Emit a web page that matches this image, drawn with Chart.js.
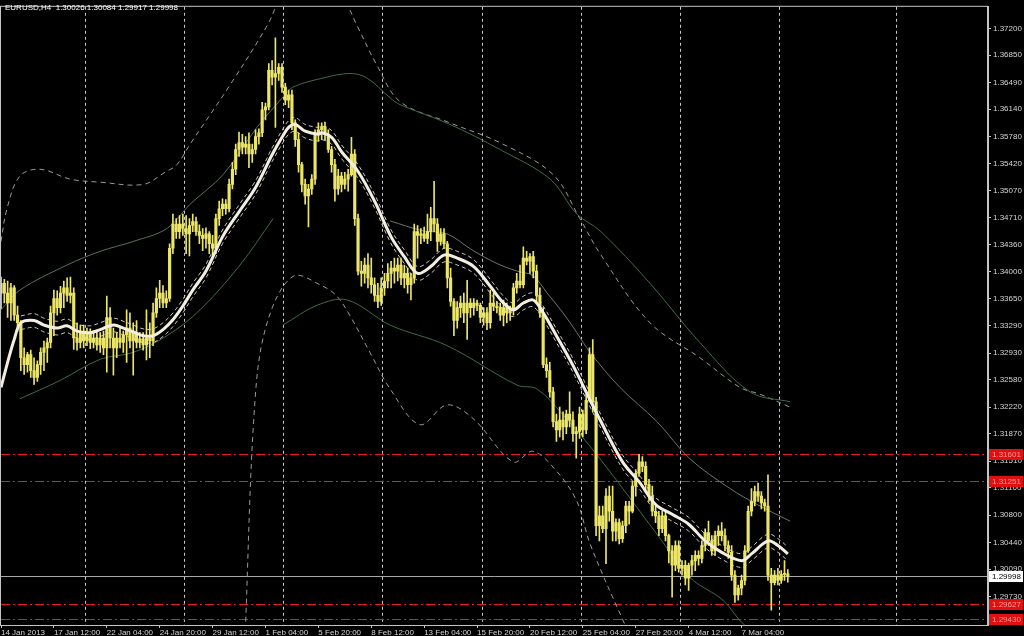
<!DOCTYPE html>
<html>
<head>
<meta charset="utf-8">
<script src="https://cdn.jsdelivr.net/npm/chart.js@4.4.0/dist/chart.umd.min.js"></script>
<style>
html, body { margin: 0; padding: 0; background: #000; }
#wrap { position: relative; width: 1024px; height: 636px; }
#title { position: absolute; left: 5px; top: 3px; color: #fff; font: 8px "Liberation Sans", Arial, sans-serif; white-space: pre; }
</style>
</head>
<body>
<div id="wrap">
  <canvas id="chart" width="1024" height="636"></canvas>
  <div id="title">EURUSD,H4  1.30026 1.30084 1.29917 1.29998</div>
</div>
<script>
// EURUSD H4, bar 0 = 14 Jan 2013 20:00
const opens = [
  1.3372,1.3385,1.3372,1.3359,1.3379,1.3343,1.3333,1.3287,1.3278,1.3291,
  1.3270,1.3261,1.3278,1.3294,1.3300,1.3307,1.3346,1.3365,1.3353,1.3372,
  1.3379,1.3369,1.3372,1.3313,1.3307,1.3322,1.3309,1.3320,1.3307,1.3313,
  1.3304,1.3313,1.3300,1.3340,1.3313,1.3300,1.3313,1.3307,1.3317,1.3326,
  1.3309,1.3320,1.3307,1.3312,1.3304,1.3313,1.3309,1.3346,1.3365,1.3372,
  1.3359,1.3365,1.3431,1.3463,1.3453,1.3463,1.3457,1.3450,1.3461,1.3466,
  1.3453,1.3448,1.3444,1.3450,1.3437,1.3431,1.3470,1.3483,1.3489,1.3483,
  1.3515,1.3535,1.3561,1.3570,1.3564,1.3568,1.3555,1.3561,1.3578,1.3583,
  1.3613,1.3617,1.3665,1.3656,1.3661,1.3669,1.3643,1.3626,1.3633,1.3596,
  1.3574,1.3541,1.3515,1.3500,1.3509,1.3522,1.3581,1.3587,1.3591,1.3581,
  1.3561,1.3541,1.3509,1.3526,1.3515,1.3522,1.3528,1.3555,1.3470,1.3401,
  1.3398,1.3409,1.3392,1.3383,1.3369,1.3361,1.3379,1.3388,1.3398,1.3405,
  1.3401,1.3409,1.3392,1.3398,1.3383,1.3392,1.3453,1.3448,1.3450,1.3444,
  1.3453,1.3470,1.3463,1.3440,1.3450,1.3437,1.3392,1.3361,1.3336,1.3353,
  1.3359,1.3346,1.3359,1.3353,1.3359,1.3356,1.3340,1.3346,1.3333,1.3359,
  1.3355,1.3353,1.3343,1.3353,1.3346,1.3350,1.3379,1.3388,1.3383,1.3418,
  1.3414,1.3420,1.3401,1.3369,1.3346,1.3278,1.3270,1.3242,1.3203,1.3192,
  1.3205,1.3196,1.3213,1.3205,1.3187,1.3190,1.3213,1.3192,1.3231,1.3291,
  1.3229,1.3066,1.3079,1.3062,1.3105,1.3085,1.3059,1.3070,1.3049,1.3066,
  1.3092,1.3085,1.3118,1.3135,1.3150,1.3144,1.3120,1.3105,1.3085,1.3079,
  1.3062,1.3079,1.3053,1.3033,1.3014,1.3040,1.3010,1.3014,1.2997,1.3014,
  1.3020,1.3027,1.3023,1.3040,1.3057,1.3046,1.3033,1.3053,1.3059,1.3053,
  1.3040,1.3031,1.3001,1.2975,1.2984,1.2994,1.3033,1.3085,1.3098,1.3111,
  1.3105,1.3096,1.3092,1.3001,1.2991,1.3001,1.2994,1.3002,1.30026
];
const highs = [
  1.3393,1.3390,1.3388,1.3385,1.3382,1.3355,1.3336,1.3300,1.3294,1.3297,
  1.3287,1.3283,1.3300,1.3309,1.3313,1.3355,1.3376,1.3375,1.3381,1.3388,
  1.3392,1.3393,1.3379,1.3333,1.3330,1.3330,1.3326,1.3325,1.3322,1.3322,
  1.3320,1.3322,1.3368,1.3353,1.3326,1.3320,1.3326,1.3322,1.3350,1.3346,
  1.3333,1.3336,1.3320,1.3320,1.3350,1.3333,1.3359,1.3379,1.3389,1.3382,
  1.3375,1.3437,1.3476,1.3470,1.3474,1.3476,1.3474,1.3470,1.3476,1.3472,
  1.3462,1.3457,1.3458,1.3453,1.3448,1.3476,1.3493,1.3496,1.3495,1.3522,
  1.3544,1.3568,1.3584,1.3581,1.3578,1.3583,1.3568,1.3587,1.3588,1.3623,
  1.3622,1.3674,1.3678,1.3708,1.3674,1.3674,1.3648,1.3639,1.3639,1.3600,
  1.3583,1.3544,1.3522,1.3515,1.3528,1.3587,1.3596,1.3596,1.3597,1.3587,
  1.3565,1.3548,1.3535,1.3531,1.3531,1.3535,1.3577,1.3561,1.3476,1.3414,
  1.3418,1.3424,1.3418,1.3392,1.3385,1.3392,1.3398,1.3411,1.3414,1.3418,
  1.3418,1.3418,1.3409,1.3405,1.3398,1.3463,1.3461,1.3457,1.3459,1.3476,
  1.3485,1.3519,1.3470,1.3457,1.3457,1.3440,1.3405,1.3365,1.3361,1.3368,
  1.3372,1.3389,1.3365,1.3365,1.3363,1.3359,1.3353,1.3353,1.3376,1.3372,
  1.3361,1.3359,1.3363,1.3359,1.3355,1.3385,1.3398,1.3409,1.3433,1.3427,
  1.3424,1.3427,1.3409,1.3379,1.3353,1.3287,1.3281,1.3248,1.3213,1.3222,
  1.3216,1.3218,1.3242,1.3216,1.3196,1.3222,1.3218,1.3239,1.3300,1.3311,
  1.3235,1.3092,1.3092,1.3115,1.3118,1.3118,1.3075,1.3075,1.3072,1.3098,
  1.3098,1.3124,1.3140,1.3160,1.3157,1.3150,1.3127,1.3118,1.3092,1.3085,
  1.3085,1.3085,1.3055,1.3040,1.3046,1.3046,1.3020,1.3020,1.3017,1.3027,
  1.3033,1.3033,1.3046,1.3062,1.3072,1.3053,1.3059,1.3066,1.3070,1.3062,
  1.3046,1.3040,1.3007,1.2988,1.3001,1.3040,1.3092,1.3115,1.3118,1.3122,
  1.3111,1.3101,1.3133,1.3010,1.3007,1.3010,1.3007,1.3020,1.30084
];
const lows = [
  1.3352,1.3359,1.3340,1.3336,1.3336,1.3322,1.3270,1.3265,1.3268,1.3261,
  1.3252,1.3256,1.3265,1.3270,1.3281,1.3300,1.3316,1.3343,1.3346,1.3353,
  1.3361,1.3359,1.3298,1.3297,1.3300,1.3300,1.3303,1.3299,1.3300,1.3297,
  1.3294,1.3291,1.3268,1.3300,1.3264,1.3287,1.3300,1.3294,1.3281,1.3300,
  1.3264,1.3300,1.3300,1.3297,1.3284,1.3287,1.3303,1.3340,1.3353,1.3353,
  1.3353,1.3361,1.3424,1.3444,1.3444,1.3448,1.3424,1.3421,1.3453,1.3448,
  1.3437,1.3428,1.3431,1.3424,1.3421,1.3424,1.3461,1.3474,1.3476,1.3479,
  1.3509,1.3528,1.3552,1.3555,1.3555,1.3537,1.3544,1.3555,1.3568,1.3578,
  1.3600,1.3613,1.3646,1.3590,1.3652,1.3636,1.3620,1.3616,1.3587,1.3565,
  1.3531,1.3505,1.3489,1.3459,1.3502,1.3515,1.3572,1.3574,1.3574,1.3557,
  1.3531,1.3493,1.3502,1.3505,1.3509,1.3506,1.3526,1.3461,1.3396,1.3381,
  1.3385,1.3379,1.3372,1.3361,1.3353,1.3356,1.3369,1.3379,1.3379,1.3385,
  1.3388,1.3383,1.3379,1.3372,1.3363,1.3385,1.3418,1.3437,1.3440,1.3437,
  1.3441,1.3453,1.3427,1.3435,1.3431,1.3379,1.3355,1.3316,1.3326,1.3340,
  1.3333,1.3311,1.3340,1.3343,1.3349,1.3333,1.3330,1.3324,1.3326,1.3349,
  1.3346,1.3336,1.3329,1.3333,1.3336,1.3343,1.3372,1.3379,1.3379,1.3409,
  1.3398,1.3392,1.3359,1.3340,1.3274,1.3261,1.3235,1.3196,1.3177,1.3183,
  1.3179,1.3187,1.3196,1.3177,1.3155,1.3181,1.3183,1.3187,1.3229,1.3216,
  1.3053,1.3046,1.3057,1.3016,1.3072,1.3046,1.3046,1.3042,1.3044,1.3057,
  1.3068,1.3083,1.3105,1.3131,1.3137,1.3111,1.3098,1.3079,1.3070,1.3053,
  1.3057,1.3046,1.3017,1.2972,1.3007,1.3005,1.3001,1.2988,1.2981,1.3001,
  1.3007,1.3014,1.3017,1.3033,1.3040,1.3027,1.3027,1.3040,1.3046,1.3033,
  1.3023,1.2994,1.2965,1.2968,1.2975,1.2988,1.3031,1.3079,1.3092,1.3098,
  1.3088,1.3085,1.2994,1.2955,1.2988,1.2988,1.2990,1.2994,1.29917
];
const closes = [
  1.3385,1.3372,1.3359,1.3379,1.3343,1.3333,1.3287,1.3278,1.3291,1.3270,
  1.3261,1.3278,1.3294,1.3300,1.3307,1.3346,1.3365,1.3353,1.3372,1.3379,
  1.3369,1.3372,1.3313,1.3307,1.3322,1.3309,1.3320,1.3307,1.3313,1.3304,
  1.3313,1.3300,1.3340,1.3313,1.3300,1.3313,1.3307,1.3317,1.3326,1.3309,
  1.3320,1.3307,1.3312,1.3304,1.3313,1.3309,1.3346,1.3365,1.3372,1.3359,
  1.3365,1.3431,1.3463,1.3453,1.3463,1.3457,1.3450,1.3461,1.3466,1.3453,
  1.3448,1.3444,1.3450,1.3437,1.3431,1.3470,1.3483,1.3489,1.3483,1.3515,
  1.3535,1.3561,1.3570,1.3564,1.3568,1.3555,1.3561,1.3578,1.3583,1.3613,
  1.3617,1.3665,1.3656,1.3661,1.3669,1.3643,1.3626,1.3633,1.3596,1.3574,
  1.3541,1.3515,1.3500,1.3509,1.3522,1.3581,1.3587,1.3591,1.3581,1.3561,
  1.3541,1.3509,1.3526,1.3515,1.3522,1.3528,1.3555,1.3470,1.3401,1.3398,
  1.3409,1.3392,1.3383,1.3369,1.3361,1.3379,1.3388,1.3398,1.3405,1.3401,
  1.3409,1.3392,1.3398,1.3383,1.3392,1.3453,1.3448,1.3450,1.3444,1.3453,
  1.3470,1.3463,1.3440,1.3450,1.3437,1.3392,1.3361,1.3336,1.3353,1.3359,
  1.3346,1.3359,1.3353,1.3359,1.3356,1.3340,1.3346,1.3333,1.3359,1.3355,
  1.3353,1.3343,1.3353,1.3346,1.3350,1.3379,1.3388,1.3383,1.3418,1.3414,
  1.3420,1.3401,1.3369,1.3346,1.3278,1.3270,1.3242,1.3203,1.3192,1.3205,
  1.3196,1.3213,1.3205,1.3187,1.3190,1.3213,1.3192,1.3231,1.3291,1.3229,
  1.3066,1.3079,1.3062,1.3105,1.3085,1.3059,1.3070,1.3049,1.3066,1.3092,
  1.3085,1.3118,1.3135,1.3150,1.3144,1.3120,1.3105,1.3085,1.3079,1.3062,
  1.3079,1.3053,1.3033,1.3014,1.3040,1.3010,1.3014,1.2997,1.3014,1.3020,
  1.3027,1.3023,1.3040,1.3057,1.3046,1.3033,1.3053,1.3059,1.3053,1.3040,
  1.3031,1.3001,1.2975,1.2984,1.2994,1.3033,1.3085,1.3098,1.3111,1.3105,
  1.3096,1.3092,1.3001,1.2991,1.3001,1.2994,1.3002,1.3003,1.29998
];

// moving average (thick white) and its dashed envelope
const maIdx = [0,2,4,6,10,13,17,20,23,27,30,34,37,40,43,46,49,52,55,58,62,67,72,77,82,85,87,89,92,96,97,100,103,108,113,118,122,126,130,134,138,143,148,152,155,158,161,164,168,173,178,181,188,193,198,203,208,213,218,224,227,232,235,238];
const maVal = [1.3248,1.3281,1.3311,1.3333,1.3336,1.3330,1.3326,1.3329,1.3322,1.3320,1.3324,1.3330,1.3326,1.3321,1.3316,1.3316,1.3324,1.3337,1.3355,1.3376,1.3401,1.3446,1.3479,1.3511,1.3554,1.3577,1.3590,1.3594,1.3585,1.3581,1.3583,1.3577,1.3558,1.3532,1.3493,1.3446,1.3420,1.3398,1.3407,1.3422,1.3418,1.3407,1.3381,1.3359,1.3350,1.3359,1.3363,1.3346,1.3316,1.3277,1.3233,1.3207,1.3150,1.3124,1.3094,1.3081,1.3068,1.3046,1.3031,1.3020,1.3029,1.3046,1.3040,1.3029];
const envIdx = [6,10,13,17,20,23,27,30,34,37,40,43,46,49,52,55,58,62,67,72,77,82,85,87,89,92,96,97,100,103,108,113,118,122,126,130,134,138,143,148,152,155,158,161,164,168,173,178,181,188,193,198,203,208,213,218,224,227,232,235,238];
const envUp = [1.3342,1.3345,1.3339,1.3335,1.3338,1.3331,1.3329,1.3333,1.3339,1.3335,1.3330,1.3325,1.3325,1.3333,1.3346,1.3364,1.3385,1.3410,1.3455,1.3488,1.3520,1.3563,1.3586,1.3599,1.3603,1.3594,1.3590,1.3592,1.3586,1.3567,1.3541,1.3502,1.3455,1.3429,1.3407,1.3416,1.3431,1.3427,1.3416,1.3390,1.3368,1.3359,1.3368,1.3372,1.3355,1.3325,1.3286,1.3242,1.3216,1.3159,1.3133,1.3103,1.3090,1.3077,1.3055,1.3040,1.3029,1.3038,1.3055,1.3049,1.3038];
const envDn = [1.3324,1.3327,1.3321,1.3317,1.3320,1.3313,1.3311,1.3315,1.3321,1.3317,1.3312,1.3307,1.3307,1.3315,1.3328,1.3346,1.3367,1.3392,1.3437,1.3470,1.3502,1.3545,1.3568,1.3581,1.3585,1.3576,1.3572,1.3574,1.3568,1.3549,1.3523,1.3484,1.3437,1.3411,1.3389,1.3398,1.3413,1.3409,1.3398,1.3372,1.3350,1.3341,1.3350,1.3354,1.3337,1.3307,1.3268,1.3224,1.3198,1.3141,1.3115,1.3085,1.3072,1.3059,1.3037,1.3022,1.3011,1.3020,1.3037,1.3031,1.3020];

// outer bands
const udIdx = [0,1.8,5.7,11.8,20.9,29.9,43,49.6,53.2,57.2,69.3,80.5,87.4,96.5,104,107.7,113.7,120.7,135.8,150.9,167,175.1,181.2,196.3,211.4,223.5,229.6,238.7];
const udVal = [1.3440,1.3483,1.3526,1.3535,1.3522,1.3518,1.3515,1.3531,1.3541,1.3568,1.3646,1.3724,1.3783,1.3802,1.3757,1.3724,1.3672,1.3624,1.3596,1.3570,1.3528,1.3470,1.3424,1.3333,1.3287,1.3248,1.3239,1.3222];
const ugIdx = [85.3,88.3,97.4,105.6,110.7,117.7,120.7,135.8,150.9,166.1,174.2,181.2,196.3,211.4,226.6,238.7];
const ugVal = [1.3630,1.3643,1.3655,1.3661,1.3655,1.3629,1.3620,1.3594,1.3561,1.3522,1.3476,1.3454,1.3385,1.3307,1.3242,1.3229];
const t1Idx = [0,5.7,20,30,40,50.2,57.2,67.2,77.4,85.3];
const t1Val = [1.3350,1.3376,1.3409,1.3427,1.3440,1.3457,1.3489,1.3528,1.3590,1.3630];
const t2Idx = [117.7,127.6,134.9,142.8,150,156.1,160.9,165.2,170,174.2,178.2,187.2,198.4,208.4,220.5,228.7,238.7];
const t2Val = [1.3467,1.3454,1.3450,1.3428,1.3411,1.3401,1.3395,1.3372,1.3346,1.3320,1.3294,1.3248,1.3203,1.3154,1.3115,1.3094,1.3072];
const lg1Idx = [5.7,17.8,30,40,50.2,60.2,72.3,82.3];
const lg1Val = [1.3233,1.3257,1.3285,1.3294,1.3316,1.3350,1.3409,1.3470];
const lgIdx = [85.3,95.6,104.7,117.7,134.9,156.1,162.1,170,181.2,198.4,208.4,218.4,225,235.6];
const lgVal = [1.3330,1.3356,1.3363,1.3330,1.3303,1.3251,1.3246,1.3212,1.3154,1.3055,1.2998,1.2968,1.2935,1.2909];
const ldIdx = [73.8,76.8,80.5,88.3,97.4,101.6,105.6,111.6,117.7,126.7,134.9,142.8,154.9,160.9,168.2,174.2,178.2,188.1,191.8];
const ldVal = [1.2916,1.3229,1.3333,1.3394,1.3381,1.3368,1.3342,1.3294,1.3246,1.3199,1.3225,1.3207,1.3150,1.3164,1.3137,1.3098,1.3042,1.2942,1.2909];

const redLevels = [1.31601, 1.31251, 1.29627, 1.29430];
const bidPrice = 1.29998;

const yTicks = [1.37200,1.36850,1.36490,1.36140,1.35780,1.35420,1.35070,1.34710,1.34360,1.34000,1.33650,1.33290,1.32930,1.32580,1.32220,1.31870,1.31510,1.31160,1.30800,1.30440,1.30090,1.29730,1.29380];
const xLabelIdx = [0,16,32,48,64,80,96,112,128,144,160,176,192,208,224];
const xLabels = ['14 Jan 2013','17 Jan 12:00','22 Jan 04:00','24 Jan 20:00','29 Jan 12:00','1 Feb 04:00','5 Feb 20:00','8 Feb 12:00','13 Feb 04:00','15 Feb 20:00','20 Feb 12:00','25 Feb 04:00','27 Feb 20:00','4 Mar 12:00','7 Mar 04:00'];
const weekIdx = [25.5,55.5,85.5,115.5,145.5,175.5,205.5,235.5,271];

const CANDLE = '#ebe56a';
const AXIS = '#c4c4c4';
const FONT = { family: '"Liberation Sans", Arial, sans-serif', size: 8 };
const X_MIN = 0, X_MAX = 298.55;
const Y_MIN = 1.29354, Y_MAX = 1.37487;

const pts = (idx, val) => idx.map((x, k) => ({ x, y: val[k] }));

function lineSet(idx, val, color, width, dash, order) {
    return {
        type: 'line',
        data: pts(idx, val),
        borderColor: color,
        borderWidth: width,
        borderDash: dash,
        pointRadius: 0,
        tension: 0.35,
        order,
    };
}

const levelsPlugin = {
    id: 'levels',
    beforeDatasetsDraw(chart) {
        const { ctx, chartArea: a, scales: { y } } = chart;
        ctx.save();
        ctx.lineWidth = 1;
        ctx.strokeStyle = '#e81c1c';
        ctx.setLineDash([9, 3, 2, 3]);
        redLevels.forEach((v) => {
            const py = Math.round(y.getPixelForValue(v)) + 0.5;
            ctx.beginPath();
            ctx.moveTo(a.left, py);
            ctx.lineTo(a.right, py);
            ctx.stroke();
        });
        ctx.setLineDash([]);
        ctx.strokeStyle = '#a8a8a8';
        const by = Math.round(y.getPixelForValue(bidPrice)) + 0.5;
        ctx.beginPath();
        ctx.moveTo(a.left, by);
        ctx.lineTo(a.right, by);
        ctx.stroke();
        ctx.restore();
    },
    afterDraw(chart) {
        const { ctx, chartArea: a, scales: { y } } = chart;
        ctx.save();
        ctx.strokeStyle = AXIS;
        ctx.lineWidth = 1;
        ctx.strokeRect(a.left - 0.5, a.top - 0.5, a.right - a.left, a.bottom - a.top + 1);
        ctx.font = '8px "Liberation Sans", Arial, sans-serif';
        ctx.textBaseline = 'middle';
        const tag = (v, bg, fg) => {
            const py = Math.round(y.getPixelForValue(v));
            ctx.fillStyle = bg;
            ctx.fillRect(a.right + 1, py - 5, 34, 11);
            ctx.fillStyle = fg;
            ctx.fillText(v.toFixed(5), a.right + 4, py + 0.5);
        };
        redLevels.forEach((v) => tag(v, '#e01010', '#ff9a9a'));
        tag(bidPrice, '#ffffff', '#000000');
        ctx.restore();
    },
};

new Chart(document.getElementById('chart'), {
    type: 'bar',
    data: {
        datasets: [
            lineSet(udIdx, udVal, '#9a9a9a', 1, [5, 4], 8),
            lineSet(ldIdx, ldVal, '#9a9a9a', 1, [5, 4], 8),
            lineSet(ugIdx, ugVal, '#3d6b45', 1, [], 7),
            lineSet(lgIdx, lgVal, '#3d6b45', 1, [], 7),
            lineSet(lg1Idx, lg1Val, '#3d6b45', 1, [], 7),
            lineSet(t1Idx, t1Val, '#5b705b', 1, [], 7),
            lineSet(t2Idx, t2Val, '#6a756a', 1, [], 7),
            lineSet(envIdx, envUp, '#c8c8c8', 1, [4, 3], 6),
            lineSet(envIdx, envDn, '#c8c8c8', 1, [4, 3], 6),
            {
                type: 'bar',
                data: highs.map((h, i) => ({ x: i, y: [lows[i], h] })),
                backgroundColor: CANDLE,
                barThickness: 1,
                grouped: false,
                order: 4,
            },
            {
                type: 'bar',
                data: opens.map((o, i) => ({ x: i, y: [o, closes[i]] })),
                backgroundColor: CANDLE,
                barThickness: 2.5,
                minBarLength: 1,
                grouped: false,
                order: 3,
            },
            lineSet(maIdx, maVal, '#f2eee2', 3, [], 1),
        ],
    },
    options: {
        responsive: false,
        animation: false,
        events: [],
        layout: { padding: { top: 1, left: 1, right: 0, bottom: 0 } },
        plugins: { legend: { display: false }, tooltip: { enabled: false } },
        scales: {
            x: {
                type: 'linear',
                position: 'bottom',
                min: X_MIN,
                max: X_MAX,
                offset: false,
                border: { color: AXIS },
                grid: { offset: false, drawOnChartArea: false, drawTicks: true, tickLength: 3, tickColor: AXIS },
                ticks: {
                    color: '#d4d4d4',
                    font: FONT,
                    align: 'start',
                    padding: 0,
                    maxRotation: 0,
                    autoSkip: false,
                    callback: (v) => xLabels[xLabelIdx.indexOf(v)] || '',
                },
                afterBuildTicks: (axis) => { axis.ticks = xLabelIdx.map((v) => ({ value: v })); },
                afterFit: (axis) => { axis.height = 11; },
            },
            x2: {
                type: 'linear',
                position: 'bottom',
                min: X_MIN,
                max: X_MAX,
                offset: false,
                border: { display: false, dash: [3, 3] },
                grid: { offset: false, drawOnChartArea: true, drawTicks: false, color: 'rgba(235,235,235,0.85)' },
                ticks: { display: false },
                afterBuildTicks: (axis) => { axis.ticks = weekIdx.map((v) => ({ value: v })); },
                afterFit: (axis) => { axis.height = 0; },
            },
            y: {
                type: 'linear',
                position: 'right',
                min: Y_MIN,
                max: Y_MAX,
                border: { color: AXIS },
                grid: { drawOnChartArea: false, drawTicks: true, tickLength: 3, tickColor: AXIS },
                ticks: {
                    color: '#d4d4d4',
                    font: FONT,
                    padding: 2,
                    callback: (v) => v.toFixed(5),
                },
                afterBuildTicks: (axis) => { axis.ticks = yTicks.map((v) => ({ value: v })); },
                afterFit: (axis) => { axis.width = 36; },
            },
        },
    },
    plugins: [levelsPlugin],
});
</script>
</body>
</html>
